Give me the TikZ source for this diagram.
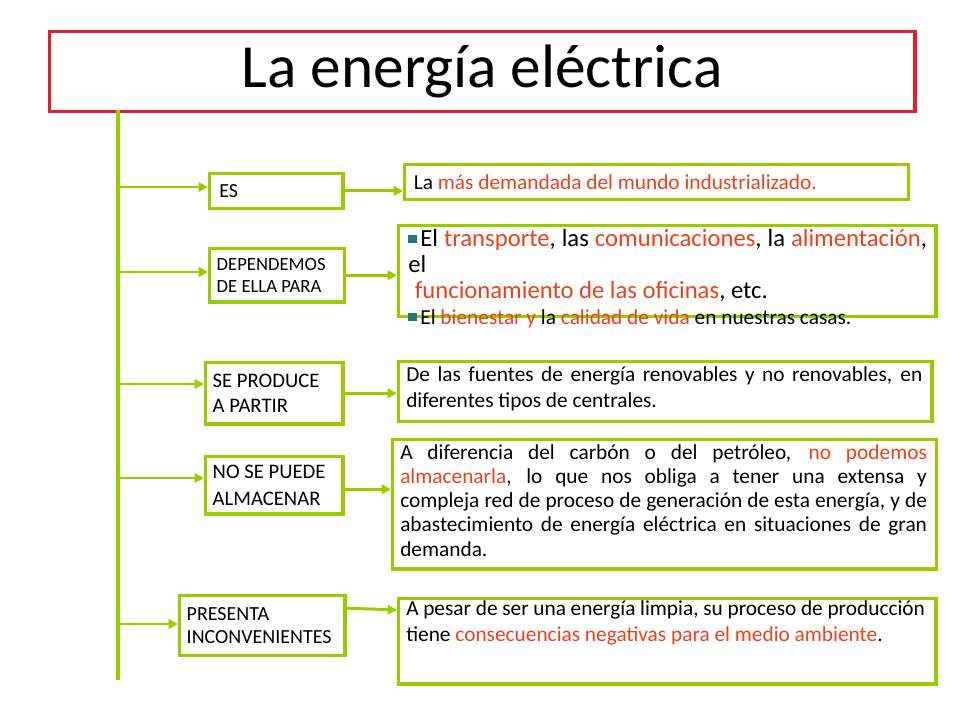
\documentclass[tikz,border=0pt]{standalone}
\usepackage{fontspec}
\setmainfont{Carlito}
\usetikzlibrary{arrows.meta}
\definecolor{gr}{RGB}{153,204,0}
\definecolor{rd}{RGB}{230,30,40}
\definecolor{tx}{RGB}{235,64,30}
\definecolor{bul}{RGB}{30,120,120}
\newcommand{\R}[1]{\textcolor{tx}{#1}}
\newcommand{\bl}{\textcolor{bul}{\rule[0.15em]{0.4em}{0.4em}}\,}
\newcommand{\nohy}{\hyphenpenalty=10000\relax\exhyphenpenalty=10000\relax}
\tikzset{
 box/.style={draw=gr,line width=2.4pt,inner sep=0pt},
 rbox/.style={box,anchor=north west},
 txt/.style={anchor=north west,inner sep=0pt,align=justify,font=\fontsize{16}{19.5}\selectfont\nohy},
 arr/.style={draw=gr,line width=2.2pt,-{Triangle[length=7pt,width=7pt]}},
 ln/.style={draw=gr,line width=2.4pt}
}
\begin{document}
\begin{tikzpicture}[x=0.75pt,y=-0.75pt]
\useasboundingbox (0,0) rectangle (960,720);
\node[draw=rd,line width=2.4pt,minimum width=649pt,minimum height=60pt,anchor=north west,font=\fontsize{46}{50}\selectfont] (title) at (48,30) {La energía eléctrica};
% left boxes
\node[box,minimum width=100pt,minimum height=26pt,anchor=north west] (l1) at (208,172) {};
\node[anchor=west,font=\fontsize{15}{18}\selectfont] at ([xshift=5pt]l1.west) {ES};
\node[box,minimum width=101pt,minimum height=40pt,anchor=north west] (l2) at (208,247) {};
\node[anchor=west,align=left,font=\fontsize{14}{16.5}\selectfont] at ([xshift=3pt]l2.west) {DEPENDEMOS\\DE ELLA PARA};
\node[box,minimum width=103pt,minimum height=46pt,anchor=north west] (l3) at (204,361) {};
\node[anchor=west,align=left,font=\fontsize{15.5}{19}\selectfont] at ([xshift=3pt]l3.west) {SE PRODUCE\\A PARTIR};
\node[box,minimum width=103pt,minimum height=43pt,anchor=north west] (l4) at (204,455) {};
\node[anchor=west,align=left,font=\fontsize{15.5}{20}\selectfont] at ([xshift=3pt]l4.west) {NO SE PUEDE\\ALMACENAR};
\node[box,minimum width=124pt,minimum height=45pt,anchor=north west] (l5) at (178,594) {};
\node[anchor=west,align=left,font=\fontsize{15}{17}\selectfont] at ([xshift=3pt]l5.west) {PRESENTA\\INCONVENIENTES};
% right boxes
\node[rbox,minimum width=378pt,minimum height=26pt] (r1) at (403,163) {};
\node[txt,anchor=west] at ([xshift=8pt]r1.west) {La \R{más demandada del mundo industrializado.}};
\node[rbox,minimum width=403pt,minimum height=68pt] (r2) at (397,224) {};
\node[txt,text width=389pt,font=\fontsize{16}{19.5}\selectfont\nohy] at (408,229) {\bl{\fontsize{18.5}{21}\selectfont El \R{transporte}, las \R{comunicaciones}, la \R{alimentación}, el\\ \hspace*{5pt}\R{funcionamiento de las oficinas}, etc.}\\ \bl El \R{bienestar y} la \R{calidad de vida} en nuestras casas.};
\node[rbox,minimum width=400pt,minimum height=45pt] (r3) at (397,360) {};
\node[txt,text width=387pt,font=\fontsize{16}{20}\selectfont\nohy] at (406,366) {De las fuentes de energía renovables y no renovables, en diferentes tipos de centrales.};
\node[rbox,minimum width=408pt,minimum height=97pt] (r4) at (391,438) {};
\node[txt,text width=395pt,font=\fontsize{16}{18.2}\selectfont\nohy] at (400,444) {A diferencia del carbón o del petróleo, \R{no podemos almacenarla}, lo que nos obliga a tener una extensa y compleja red de proceso de generación de esta energía, y de abastecimiento de energía eléctrica en situaciones de gran demanda.};
\node[rbox,minimum width=403pt,minimum height=64pt] (r5) at (397,597) {};
\node[txt,text width=389pt] at (406,600) {A pesar de ser una energía limpia, su proceso de producción tiene \R{consecuencias negativas para el medio ambiente}.};
% trunk
\coordinate (t0) at (118,110);
\coordinate (t1) at (118,680);
\draw[ln] (t0) -- (t1);
\coordinate (b1) at (118,187);
\coordinate (b2) at (118,272);
\coordinate (b3) at (118,384);
\coordinate (b4) at (118,478);
\coordinate (b5) at (118,624);
\draw[arr] (b1) -- (b1 -| l1.west);
\draw[arr] (b2) -- (b2 -| l2.west);
\draw[arr] (b3) -- (b3 -| l3.west);
\draw[arr] (b4) -- (b4 -| l4.west);
\draw[arr] (b5) -- (b5 -| l5.west);
\draw[arr] (l1.east) -- (l1.east -| r1.west);
\draw[arr] (l2.east) -- (l2.east -| r2.west);
\draw[arr] (l3.east) -- (l3.east -| r3.west);
\draw[arr] ([yshift=-3pt]l4.east) -- ([yshift=-3pt]l4.east -| r4.west);
\coordinate (a5) at (343,608);
\draw[arr] (a5) -- (r5.west |- 0,610);
\end{tikzpicture}
\end{document}
